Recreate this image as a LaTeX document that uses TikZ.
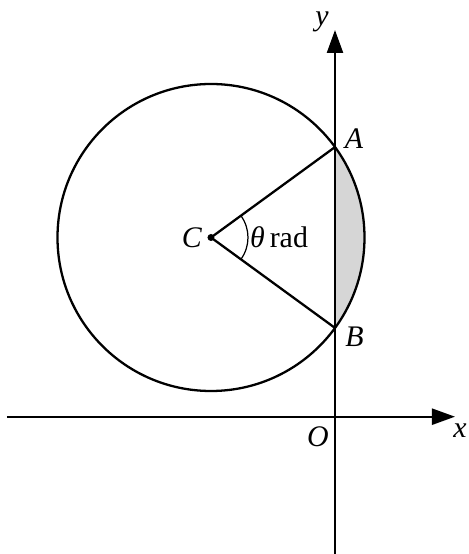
\documentclass[tikz,border=0pt]{standalone}
\usepackage{fontspec}
\setmainfont{Liberation Serif}
\usetikzlibrary{arrows.meta,calc}

\begin{document}
\begin{tikzpicture}[line width=1.3pt, font=\fontsize{17}{20}\selectfont,
  axis/.style={-{Triangle[length=0.46cm,width=0.32cm]}},
  lbl/.style={inner sep=0pt}]
  \useasboundingbox (-6.7,-2.746) rectangle (2.68,8.334);

  % Pusat lingkaran, jari-jari, setengah sudut
  \def\rr{3.07}
  \def\ha{36.1}
  \coordinate (O) at (0,0);
  \coordinate (C) at (-2.48,3.584);
  \coordinate (A) at ($(C)+(\ha:\rr)$);   % titik atas pada sumbu y
  \coordinate (B) at ($(C)+(-\ha:\rr)$);  % titik bawah pada sumbu y

  % --- Tembereng yang diarsir ---
  \fill[gray!32] (B) arc[start angle=-\ha, end angle=\ha, radius=\rr] -- cycle;

  % --- Lingkaran ---
  \draw (C) circle[radius=\rr];

  % --- Sumbu ---
  \coordinate (xs) at (-6.56,0);
  \coordinate (xe) at (2.4,0);
  \coordinate (ys) at (0,-2.8);
  \coordinate (ye) at (0,7.734);
  \draw[axis] (xs) -- (xe);
  \draw[axis] (ys) -- (ye);

  % --- Jari-jari dan sudut ---
  \draw (C) -- (A);
  \draw (C) -- (B);
  \fill (C) circle[radius=0.07];
  \draw[line width=0.7pt] ($(C)+(-\ha:0.74)$) arc[start angle=-\ha, end angle=\ha, radius=0.74];

  % Label
  \node[lbl] (lC) at (-2.86,3.58) {\textit{C}};
  \node[lbl, anchor=west] (lth) at (-1.72,3.58) {\textit{θ}\,rad};
  \node[lbl] (lA) at (0.38,5.57) {\textit{A}};
  \node[lbl] (lB) at (0.39,1.6) {\textit{B}};
  \node[lbl] (lO) at (-0.34,-0.41) {\textit{O}};
  \node[lbl] (lx) at (2.5,-0.27) {\textit{x}};
  \node[lbl] (ly) at (-0.26,7.89) {\textit{y}};

\end{tikzpicture}
\end{document}
